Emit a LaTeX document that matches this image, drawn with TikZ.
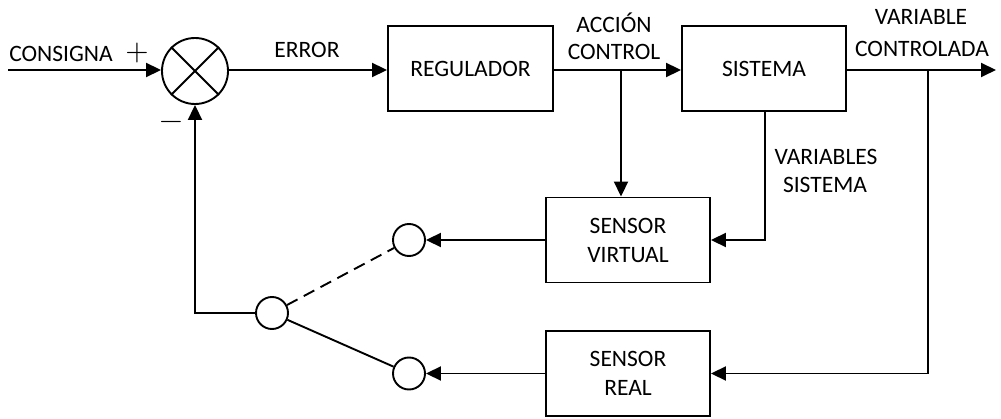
\documentclass[tikz,border=0pt]{standalone}
\usepackage{fontspec}
\setmainfont{Carlito}
\newfontfamily\signfont{lmroman10-regular.otf}
\usetikzlibrary{arrows.meta}
\begin{document}
\begin{tikzpicture}[x=1pt,y=-1pt,line width=1.9pt,
  txt/.style={font=\fontsize{23.5}{29}\selectfont,inner sep=0pt},
  lbl/.style={txt,anchor=base},
  blk/.style={draw,txt,align=center,minimum width=165pt,minimum height=85pt},
  sw/.style={draw,circle,minimum size=32pt,inner sep=0pt},
  sgn/.style={font=\signfont\fontsize{30}{30}\selectfont,inner sep=0pt},
  arr/.style={-{Triangle[length=15pt,width=14pt]}}]
\useasboundingbox (0,0) rectangle (1001,419);

% nodes
\node[draw,circle,minimum size=66pt,inner sep=0pt] (sum) at (195,71) {};
\draw (sum.45) -- (sum.225) (sum.135) -- (sum.315);
\node[blk] (reg) at (470.5,68.5) {REGULADOR};
\node[blk,minimum width=164pt] (sys) at (764,68.5) {SISTEMA};
\node[blk,minimum width=164pt] (sv) at (628,240) {SENSOR\\VIRTUAL};
\node[blk,minimum width=164pt] (sr) at (628,373.5) {SENSOR\\REAL};
\node[sw] (c1) at (409,240) {};
\node[sw] (c3) at (409,373.5) {};
\node[sw] (c2) at (272,313) {};

\coordinate (in) at (8,70);
\coordinate (out) at (996,70);
\coordinate (bout) at (928,70);
\coordinate (bact) at (621,70);
\coordinate (corner) at (195,313);

% labels
\node[lbl] (l1) at (61,62) {CONSIGNA};
\node[sgn] (plus) at (137,53) {+};
\node[sgn] (minus) at (171,125) {−};
\node[lbl] (l2) at (307,58) {ERROR};
\node[lbl] (l3) at (614,33) {ACCIÓN};
\node[lbl] (l4) at (614,60) {CONTROL};
\node[lbl] (l5) at (921,25) {VARIABLE};
\node[lbl] (l6) at (922,57) {CONTROLADA};
\node[lbl] (l7) at (826,165) {VARIABLES};
\node[lbl] (l8) at (825,193) {SISTEMA};

% connectors
\draw[arr] (in) -- (sum.west |- in);
\draw[arr] (sum.east |- in) -- (reg.west |- in);
\draw[arr] (reg.east |- in) -- (sys.west |- in);
\draw[arr] (sys.east |- in) -- (out);
\draw[arr] (bact) -- (bact |- sv.north);
\draw[arr] (sys.south -| 765,0) -- (765,240) -- (sv.east);
\draw[arr] (bout) -- (bout |- sr.east) -- (sr.east);
\draw[arr] (sv.west) -- (c1.east);
\draw[arr] (sr.west) -- (c3.east);
\draw[arr] (c2.west) -- (corner) -- (sum.south);
\draw[dash pattern=on 12pt off 7pt] (c2) -- (c1);
\draw (c2) -- (c3);
\end{tikzpicture}
\end{document}
